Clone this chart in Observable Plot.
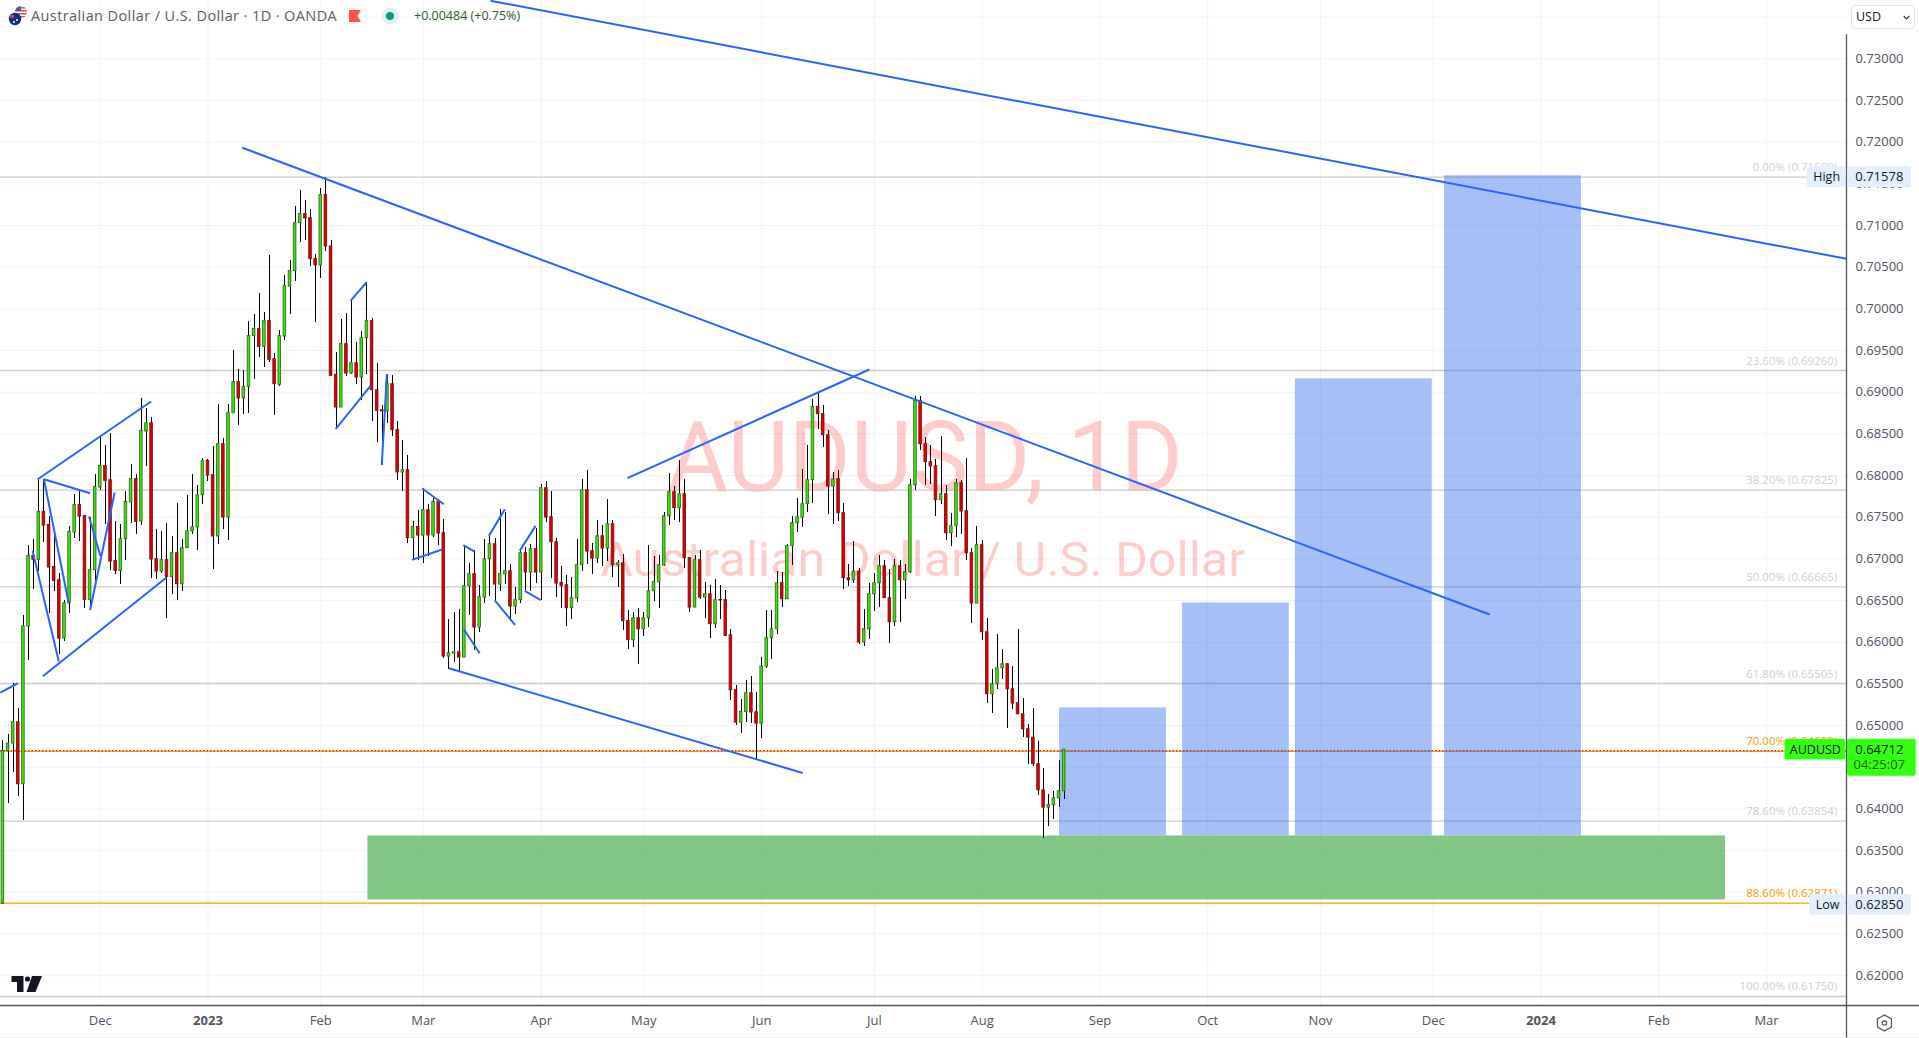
<!DOCTYPE html>
<html>
<head>
<meta charset="utf-8">
<title>AUDUSD</title>
<script src="https://cdn.jsdelivr.net/npm/d3@7"></script>
<script src="https://cdn.jsdelivr.net/npm/@observablehq/plot@0.6"></script>
<style>
html,body{margin:0;padding:0;background:#fff;overflow:hidden}
#page{position:relative;width:1919px;height:1038px;font-family:"Open Sans",sans-serif}
#chart svg{display:block}
.hd{position:absolute;white-space:nowrap;line-height:20px}
</style>
</head>
<body>
<div id="page">
<div id="chart"></div>
<svg style="position:absolute;left:7px;top:5px" width="22" height="22" viewBox="0 0 22 22">
  <defs><clipPath id="us"><circle cx="14" cy="7" r="6"/></clipPath></defs>
  <g clip-path="url(#us)"><rect x="8" y="1" width="12" height="12" fill="#fff"/>
  <rect x="8" y="2" width="12" height="1.6" fill="#e0524f"/><rect x="8" y="5" width="12" height="1.6" fill="#e0524f"/><rect x="8" y="8" width="12" height="1.6" fill="#e0524f"/><rect x="8" y="11" width="12" height="1.6" fill="#e0524f"/>
  <rect x="8" y="1" width="6" height="5" fill="#3a5fa8"/></g>
  <circle cx="8" cy="14" r="6.2" fill="#10307f"/><path d="M3 10h4v3h-4z" fill="#c9485b"/><circle cx="10" cy="15" r="1" fill="#fff"/><circle cx="7" cy="17" r="1" fill="#fff"/>
</svg>
<div class="hd" style="left:31px;top:6px;font-size:14.5px;letter-spacing:.4px;color:#5a5d66">Australian Dollar / U.S. Dollar · 1D · OANDA</div>
<svg style="position:absolute;left:349px;top:10px" width="12" height="12" viewBox="0 0 12 12"><path d="M0 0H12L8.5 6L12 12H0Z" fill="#ff5252"/></svg>
<svg style="position:absolute;left:381px;top:7px" width="18" height="18" viewBox="0 0 18 18"><circle cx="9" cy="9" r="8.5" fill="#e0f2ef"/><circle cx="9" cy="9" r="4" fill="#089981"/></svg>
<div class="hd" style="left:414px;top:6px;font-size:12.5px;color:#2f5a1f">+0.00484 (+0.75%)</div>
<div class="hd" style="left:1851px;top:5px;width:64px;height:24px;box-sizing:border-box;border:1px solid #e0e3eb;border-radius:4px;background:#fff;font-size:12.5px;color:#131722;padding-left:4px;line-height:22px">USD<svg style="position:absolute;right:4px;top:9px" width="7" height="5" viewBox="0 0 7 5"><path d="M.7 1 3.5 3.8 6.3 1" fill="none" stroke="#333" stroke-width="1.2"/></svg></div>
<svg style="position:absolute;left:11px;top:976px" width="32" height="16" viewBox="0 0 32 16">
  <path d="M0.5 0H12.5V16H6V6H0.5Z M21 0H31L24.5 16H15.5Z" fill="#131722"/><circle cx="16.5" cy="3" r="2.6" fill="#131722"/>
</svg>
</div>
<script>
// Candles, bar by bar (daily)
const highs = [
.64824,.64896,.65508,.65208,.66316,.67164,.67228,.67964,.67956,.67504,
.67296,.66828,.66496,.67384,.67776,.67808,.67516,.67496,.68008,.68456,
.68356,.68508,.67444,.67416,.67808,.68128,.68008,.68928,.68808,.68696,
.67356,.67324,.67428,.67272,.67668,.67236,.67756,.68008,.67876,.68208,
.68196,.68344,.68856,.68448,.68856,.69496,.69276,.69256,.69844,.69936,
.70188,.69960,.70636,.69468,.69736,.70396,.70576,.71224,.71416,.71296,
.71196,.70656,.71440,.71578,.70816,.69476,.69876,.69948,.70096,.69596,
.69732,.70316,.69888,.69348,.68836,.69216,.69196,.68644,
.68416,.68236,.67444,.67576,.67844,.67656,.67744,.67708,.67476,.66276,
.66356,.66396,.67164,.66948,.67096,.66676,.67236,.67296,.67248,.67588,
.67556,.66936,.66656,.67088,.67136,.67176,.67368,.67896,.67924,.67808,
.67248,.66904,.66796,.66776,.67228,.67956,.68056,.67188,.67464,.67404,
.67708,.67456,.66976,.67048,.66384,.66356,.66408,.66356,.67164,.67024,
.67036,.67556,.68028,.67864,.68176,.67956,.67016,.67036,.67096,.66716,
.66684,.66748,.66676,.66616,.66148,.65476,.65316,.65536,.65584,.65396,
.65816,.66376,.66376,.66844,.66836,.67176,.67504,.67728,
.68068,.68356,.68916,.68996,.68836,.68544,.68036,.68056,.67668,.66928,
.67204,.66888,.66396,.66708,.66828,.67044,.66976,.66868,.66996,.66976,
.66936,.67956,.68944,.68944,.68456,.68364,.68196,.68464,.67876,.67548,
.67948,.67936,.68208,.67124,.67384,.67224,.66288,.65676,.66088,.65916,
.65748,.65704,.66156,.65328,.65016,.65208,.64804,.64488,.64176,.64204,.64576,.64716];
const lows = [
.62850,.64064,.64436,.64148,.63856,.65776,.66636,.66848,.67196,.66344,
.66608,.65848,.66008,.66344,.67244,.67208,.66408,.66384,.66704,.67816,
.67416,.66864,.66808,.66696,.66976,.67428,.67288,.67396,.68104,.66764,
.66748,.66824,.66284,.66568,.66496,.66608,.67124,.67296,.67104,.67648,
.67928,.66872,.67176,.67356,.67216,.68744,.68600,.68732,.68744,.69152,
.69416,.69296,.69356,.68716,.69072,.69616,.69928,.70328,.70796,.70824,
.70508,.69836,.70364,.70688,.69184,.68556,.68816,.69188,.69208,.69088,
.68896,.69216,.68648,.68396,.68116,.68624,.68468,.67944,
.67804,.67184,.66988,.66976,.66944,.67028,.67256,.67156,.65804,.65676,
.65756,.65636,.65816,.66316,.65896,.66116,.66468,.66544,.66496,.66608,
.66696,.66248,.66328,.66468,.66616,.66608,.66704,.66504,.67436,.66764,
.66536,.66408,.66188,.66268,.66476,.66848,.66936,.66812,.66948,.66908,
.66968,.66776,.66656,.66136,.65916,.65936,.65736,.66068,.66176,.66488,
.66408,.66908,.67396,.67456,.67436,.66884,.66356,.66416,.66508,.66284,
.66044,.66164,.66268,.66068,.65304,.64996,.64904,.65036,.65024,.64584,
.64844,.65688,.65788,.66088,.66416,.66508,.66916,.67316,
.67376,.67556,.67664,.68556,.68336,.67536,.67416,.67448,.66636,.66668,
.66708,.65976,.65948,.66028,.66368,.66416,.66528,.65988,.66188,.66236,
.66516,.66824,.67816,.68304,.67876,.67896,.67508,.67648,.67224,.67148,
.67256,.67288,.66976,.66224,.66464,.66024,.65264,.65144,.65436,.65556,
.64964,.65196,.65136,.64856,.64536,.64508,.64164,.63648,.63788,.63872,.64016,.64112];
const opens = [
.62864,.64696,.64784,.65040,.64296,.66188,.67036,.66988,.67564,.67408,
.66904,.66744,.66044,.66468,.67316,.67648,.67516,.66508,.66864,.67856,
.68116,.67944,.66976,.66856,.67236,.67676,.67956,.67448,.68528,.68628,
.66996,.66848,.66984,.66784,.67068,.66696,.67128,.67328,.67376,.67764,
.68176,.68004,.67268,.68376,.67496,.68748,.69120,.68924,.69064,.69672,
.69760,.69544,.69856,.69396,.69088,.69668,.70268,.70452,.71028,.71136,
.71088,.70596,.70520,.71364,.70748,.69208,.68816,.69576,.69224,.69348,
.69176,.69648,.69852,.69024,.68784,.68768,.69096,.68544,
.68036,.68064,.67248,.67384,.67280,.67584,.67280,.67684,.67308,.65828,
.65864,.65880,.65816,.66672,.66816,.66176,.66536,.66996,.67176,.66692,
.66816,.66852,.66428,.66504,.67068,.66836,.67116,.66836,.67848,.67500,
.67200,.66712,.66684,.66408,.66524,.66924,.67824,.67092,.67004,.67272,
.67124,.67416,.66924,.66948,.66256,.66024,.66288,.66156,.66288,.66612,
.66720,.66920,.67512,.67800,.67608,.67776,.67008,.66416,.66984,.66536,
.66576,.66216,.66508,.66504,.66084,.65424,.65036,.65164,.65388,.65160,
.65024,.65708,.66048,.66156,.66708,.66516,.67152,.67428,
.67496,.67656,.67944,.68824,.68736,.68484,.67868,.67956,.67548,.66768,
.66744,.66848,.65996,.66156,.66576,.66708,.66912,.66528,.66240,.66912,
.66744,.66840,.67884,.68896,.68376,.68160,.68112,.67704,.67776,.67308,
.67392,.67908,.67572,.67068,.66464,.67164,.66120,.65376,.65496,.65688,
.65736,.65436,.65268,.65136,.64956,.64856,.64536,.64224,.64016,.64044,.64128,.64212];
const closes = [
.64696,.64784,.65040,.64296,.66192,.67036,.66988,.67564,.67400,.66896,
.66736,.66044,.66468,.67324,.67648,.67508,.66508,.66864,.67864,.68116,
.67936,.66968,.66856,.67236,.67684,.67956,.67444,.68536,.68628,.66992,
.66848,.66984,.66784,.67068,.66696,.67128,.67332,.67380,.67764,.68172,
.68000,.67268,.68376,.67496,.68748,.69120,.68924,.69064,.69672,.69760,
.69544,.69852,.69388,.69096,.69672,.70272,.70452,.71028,.71136,.71084,
.70596,.70520,.71364,.70748,.69196,.68816,.69576,.69224,.69348,.69176,
.69648,.69852,.69024,.68776,.68768,.69096,.68544,.68036,
.68064,.67248,.67384,.67280,.67584,.67280,.67684,.67304,.65828,.65868,
.65880,.65816,.66672,.66816,.66176,.66540,.66996,.67176,.66692,.66816,
.66852,.66428,.66504,.67068,.66836,.67116,.66836,.67848,.67496,.67200,
.66704,.66676,.66408,.66528,.66924,.67824,.67088,.67004,.67272,.67124,
.67416,.66924,.66948,.66252,.66024,.66288,.66156,.66288,.66612,.66720,
.66924,.67512,.67800,.67608,.67776,.67008,.66416,.66984,.66536,.66576,
.66216,.66504,.66500,.66076,.65424,.65036,.65164,.65388,.65156,.65024,
.65708,.66048,.66156,.66708,.66516,.67152,.67428,.67500,
.67656,.67944,.68824,.68736,.68484,.67868,.67952,.67548,.66768,.66744,
.66848,.65996,.66156,.66576,.66708,.66912,.66528,.66240,.66912,.66744,
.66840,.67884,.68896,.68376,.68160,.68108,.67704,.67776,.67308,.67392,
.67908,.67568,.67068,.66464,.67164,.66120,.65376,.65496,.65688,.65736,
.65436,.65264,.65136,.64956,.64856,.64536,.64224,.64016,.64048,.64128,.64212,.64712];

// Time axis: bar number of each month start, and its label
const monthBars   = [19,40,62,82,105,125,148,170,191,214,235,257,279,300,323,344];
const monthLabels = ["Dec","2023","Feb","Mar","Apr","May","Jun","Jul","Aug","Sep","Oct","Nov","Dec","2024","Feb","Mar"];
const priceTicks  = d3.range(23).map(k => +(0.62 + k*0.005).toFixed(3));
const gridPrices  = d3.range(25).map(k => +(0.62 + k*0.005).toFixed(3));

// Fibonacci retracement
const fibRatios = ["0.00%","23.60%","38.20%","50.00%","61.80%","70.00%","78.60%","88.60%","100.00%"];
const fibPrices = [.7158,.6926,.67825,.66665,.65505,.6469,.63854,.62871,.6175];

// Drawn trend lines: start bar, start price, end bar, end price
const trendStartBar = [95.1,46.7,121.8,87,6.8,7.8,8,5.8,8,16.8,17,67.8,64.9,73.9,81.8,79.8,89.8,89.9,94.8,95.9,100.8,101.8,-0.5];
const trendStartPx  = [.73696,.71932,.67968,.65688,.67956,.65592,.67956,.67096,.67956,.67508,.66384,.70096,.68556,.68128,.67844,.66988,.67164,.66156,.67276,.66504,.67096,.66616,.65396];
const trendEndBar   = [359.6,290,169,156,28.9,31.9,17,10.9,12.85,19,21.8,70.9,71.7,74.9,86,85.8,92,93,97.9,99.9,103.9,104.9,2.9];
const trendEndPx    = [.706,.66333,.69272,.64432,.68888,.66776,.67788,.65768,.66464,.67036,.67796,.70316,.69076,.69216,.67656,.67116,.67088,.65868,.67596,.66208,.67396,.66504,.65508];

// Blue projection boxes and the green zone
const boxStart = [206.1,230.1,252.1,281.2];
const boxEnd   = [226.95,250.9,278.8,307.9];
const boxTop   = [.65212,.66472,.6916,.71596];
const boxFloor = .63676;
const zone = {x1:71.2, x2:336, y1:.62908, y2:.63676};

const candles = highs.map((h,i)=>({i,h,l:lows[i],o:opens[i],c:closes[i],up:closes[i]>=opens[i]}));
const fibs = fibPrices.map((p,k)=>({p,label:`${fibRatios[k]} (${p.toFixed(5)})`,hot:k===5||k===7}));
const trends = trendStartBar.map((b,k)=>({x1:b,y1:trendStartPx[k],x2:trendEndBar[k],y2:trendEndPx[k]}));
const boxes = boxStart.map((b,k)=>({x1:b,x2:boxEnd[k],y1:boxFloor,y2:boxTop[k]}));

const lastPrice = .64712, hi = .71578, lo = .6285;
const axisBar = 359.6;      // bar number where the price axis sits
const edgeBar = 373.9;      // right edge of the page
const tagH = .00125;        // half height of one-line price tags
const nameTags  = [{a:352,  b:359.45,p:hi,t:"High",  f:"#e3effd"},{a:352.4,b:359.45,p:lo,t:"Low",f:"#e3effd"},{a:347.6,b:359.45,p:lastPrice,t:"AUDUSD",f:"#33ff11"}];
const priceTags = [{a:359.8,b:372.3,p:hi,t:hi.toFixed(5),f:"#e3effd"},{a:359.8,b:372.3,p:lo,t:lo.toFixed(5),f:"#e3effd"}];

const ink = "#50535e", grid = "#f0f3fa", blue = "#2962ff";
const plot = Plot.plot({
  width:1919, height:1038,
  marginTop:0, marginRight:73, marginBottom:33, marginLeft:0,
  style:{fontFamily:'"Open Sans",sans-serif',background:"#fff",overflow:"visible"},
  x:{type:"linear",domain:[-0.468,axisBar],range:[0,1846]},
  y:{type:"linear",domain:[.61642,.73699],range:[1005,0]},
  marks:[
    Plot.gridX(monthBars,{stroke:grid,strokeOpacity:1,strokeWidth:1}),
    Plot.gridY(gridPrices,{stroke:grid,strokeOpacity:1,strokeWidth:1}),
    Plot.text(["AUDUSD, 1D"],{x:179.8,y:.67816,text:d=>d,fontSize:98,fill:"#ff0000",fillOpacity:.2,fontFamily:"Roboto",lineAnchor:"bottom",className:"wm1"}),
    Plot.text(["Australian Dollar / U.S. Dollar"],{x:179.4,y:.66796,text:d=>d,fontSize:48,fill:"#ff0000",fillOpacity:.2,fontFamily:"Roboto",lineAnchor:"bottom",className:"wm2"}),
    Plot.ruleY(fibs,{y:"p",stroke:d=>d.hot?"#ff9800":"#cccccc",strokeWidth:1.3,x1:-0.468,x2:axisBar}),
    Plot.ruleY([lastPrice],{stroke:"#e0262a",strokeWidth:1.3,strokeDasharray:"1.5,2",x1:-0.468,x2:axisBar,dy:1}),
    Plot.text(fibs,{x:357.8,y:"p",text:"label",textAnchor:"end",lineAnchor:"bottom",dy:-6,fontSize:11.5,fill:d=>d.hot?"#ff9800":"#cfcfcf"}),
    Plot.rect(boxes,{x1:"x1",x2:"x2",y1:"y1",y2:"y2",fill:"#1c62e8",fillOpacity:.4}),
    Plot.rect([zone],{x1:"x1",x2:"x2",y1:"y1",y2:"y2",fill:"#4caf50",fillOpacity:.7}),
    Plot.ruleX(candles,{x:"i",y1:"l",y2:"h",stroke:"#000",strokeWidth:1,shapeRendering:"crispEdges"}),
    Plot.rect(candles,{x1:d=>d.i-.25,x2:d=>d.i+.25,y1:"o",y2:"c",fill:d=>d.up?"#2cf00c":"#e00000",stroke:d=>d.up?"#3f6a18":"#7d1010",strokeWidth:.9}),
    Plot.link(trends,{x1:"x1",y1:"y1",x2:"x2",y2:"y2",stroke:blue,strokeWidth:2}),
    Plot.axisY({anchor:"right",ticks:priceTicks,tickFormat:".5f",tickSize:0,tickPadding:9,label:null,fontSize:13,color:ink}),
    Plot.axisX({anchor:"bottom",ticks:monthBars,tickFormat:d=>monthLabels[monthBars.indexOf(d)],tickSize:0,tickPadding:10,label:null,fontSize:13,color:ink}),
    Plot.ruleX([axisBar],{y1:.73288,y2:.6124,stroke:ink,strokeWidth:1.3}),
    Plot.ruleY([.61642],{x1:-0.468,x2:edgeBar,stroke:ink,strokeWidth:1.3}),
    Plot.ruleY([.61252],{x1:-0.468,x2:edgeBar,stroke:"#e0e3eb",strokeWidth:1}),
    Plot.rect(nameTags,{x1:"a",x2:"b",y1:d=>d.p-tagH,y2:d=>d.p+tagH,fill:"f",rx:2}),
    Plot.rect(priceTags,{x1:"a",x2:"b",y1:d=>d.p-tagH,y2:d=>d.p+tagH,fill:"f",rx:2}),
    Plot.rect([lastPrice],{x1:359.8,x2:373.2,y1:d=>d-.0032,y2:d=>d+.00125,fill:"#33ff11",rx:2}),
    Plot.text(nameTags,{x:d=>(d.a+d.b)/2,y:"p",text:"t",fontSize:12.5,fill:"#131722"}),
    Plot.text(priceTags,{x:366,y:"p",text:"t",fontSize:13,fill:"#131722"}),
    Plot.text([lastPrice],{x:366,y:d=>d,text:d=>d.toFixed(5),fontSize:13,fill:"#131722"}),
    Plot.text(["04:25:07"],{x:366,y:lastPrice-.00185,text:d=>d,fontSize:13,fill:"#1d5c10"}),
    Plot.dot([0],{x:367,y:.61432,symbol:"hexagon",r:7,stroke:ink,fill:"none",strokeWidth:1.2}),
    Plot.dot([0],{x:367,y:.61432,r:2.2,stroke:ink,fill:"none",strokeWidth:1.2})
  ]
});
document.getElementById("chart").appendChild(plot);
// stretch the two watermark lines to the reference's width
plot.querySelectorAll(".wm1 text").forEach(t=>{t.setAttribute("textLength",516);t.setAttribute("lengthAdjust","spacingAndGlyphs");});
plot.querySelectorAll(".wm2 text").forEach(t=>{t.setAttribute("textLength",645);t.setAttribute("lengthAdjust","spacingAndGlyphs");});
plot.querySelectorAll('[aria-label="x-axis tick label"] text').forEach(t=>{if(/^20/.test(t.textContent))t.setAttribute("font-weight","bold");});
</script>
</body>
</html>
